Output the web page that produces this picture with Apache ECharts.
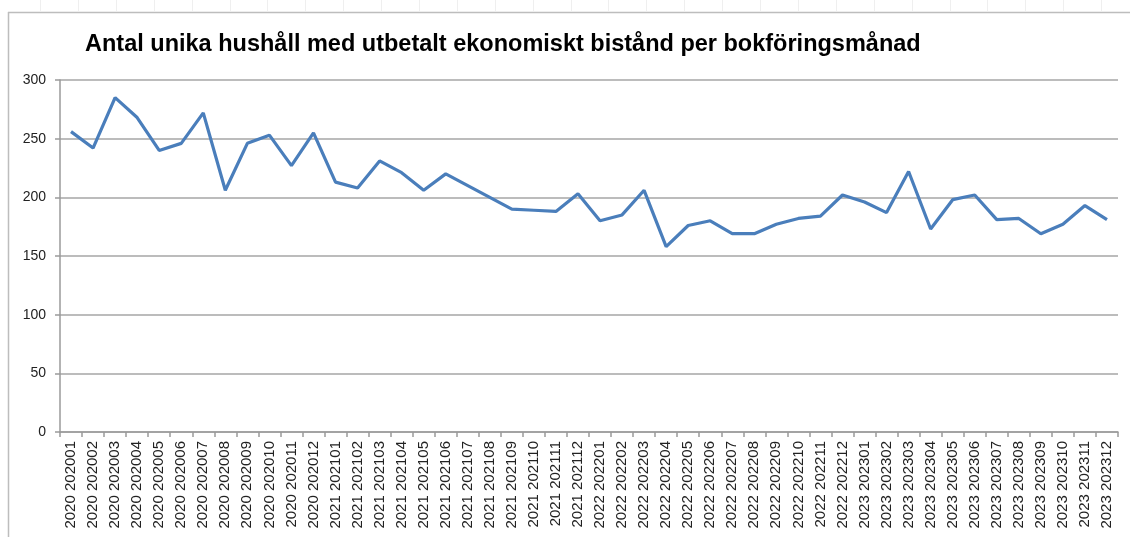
<!DOCTYPE html>
<html>
<head>
<meta charset="utf-8">
<script src="https://cdn.jsdelivr.net/npm/echarts@6/dist/echarts.min.js"></script>
<style>
html,body{margin:0;padding:0;background:#fff;}
#c{width:1130px;height:537px;}
</style>
</head>
<body>
<div id="c"></div>
<script>
const titleText = 'Antal unika hushåll med utbetalt ekonomiskt bistånd per bokföringsmånad';
const years = ['2020','2021','2022','2023'];
const months = ['01','02','03','04','05','06','07','08','09','10','11','12'];
const categories = [];
years.forEach(y => months.forEach(m => categories.push(y + ' ' + y + m)));
const values = [
  256, 242, 285, 268, 240, 246, 272, 206, 246, 253, 227, 255,
  213, 208, 231, 221, 206, 220, 210, 200, 190, 189, 188, 203,
  180, 185, 206, 158, 176, 180, 169, 169, 177, 182, 184, 202,
  196, 187, 222, 173, 198, 202, 181, 182, 169, 177, 193, 181
];
const yTicks = [0, 50, 100, 150, 200, 250, 300];

const topTicks = [];
for (let x = 40; x < 1130; x += 37.9) {
  topTicks.push({type:'line', shape:{x1:Math.round(x)+0.5,y1:0,x2:Math.round(x)+0.5,y2:11}, style:{stroke:'#efefef',lineWidth:1}, silent:true});
}

const chart = echarts.init(document.getElementById('c'), null, {renderer:'canvas'});
chart.setOption({
  animation:false,
  backgroundColor:'#fff',
  title:{
    text:titleText,
    left:80, top:28,
    textStyle:{fontFamily:'Liberation Sans', fontWeight:'bold', fontSize:23.5, color:'#000'}
  },
  graphic:[
    ...topTicks,
    {type:'line', shape:{x1:8,y1:12.5,x2:1130,y2:12.5}, style:{stroke:'#bdbdbd',lineWidth:1.5}, silent:true},
    {type:'line', shape:{x1:8.5,y1:12,x2:8.5,y2:537}, style:{stroke:'#bdbdbd',lineWidth:1.5}, silent:true}
  ],
  grid:{left:60, right:12, top:80, bottom:105, containLabel:false},
  xAxis:{
    type:'category',
    data:categories,
    boundaryGap:true,
    axisLine:{show:true, lineStyle:{color:'#9a9a9a', width:1.5}},
    axisTick:{show:true, inside:false, length:5, alignWithLabel:false, interval:0, lineStyle:{color:'#9a9a9a', width:1.5}},
    axisLabel:{interval:0, rotate:90, margin:9, fontFamily:'Liberation Sans', fontSize:15, color:'#222'},
    splitLine:{show:false}
  },
  yAxis:{
    type:'value',
    min:yTicks[0], max:yTicks[yTicks.length-1], interval:50,
    axisLine:{show:true, lineStyle:{color:'#9a9a9a', width:1.5}},
    axisTick:{show:true, inside:false, length:5, lineStyle:{color:'#9a9a9a', width:1.5}},
    axisLabel:{margin:14, fontFamily:'Liberation Sans', fontSize:14, color:'#222'},
    splitLine:{show:true, lineStyle:{color:'#a6a6a6', width:1.5}}
  },
  series:[{
    type:'line',
    data:values,
    symbol:'none',
    smooth:false,
    lineStyle:{color:'#4a7ebb', width:3.2},
    itemStyle:{color:'#4a7ebb'}
  }]
});
</script>
</body>
</html>
